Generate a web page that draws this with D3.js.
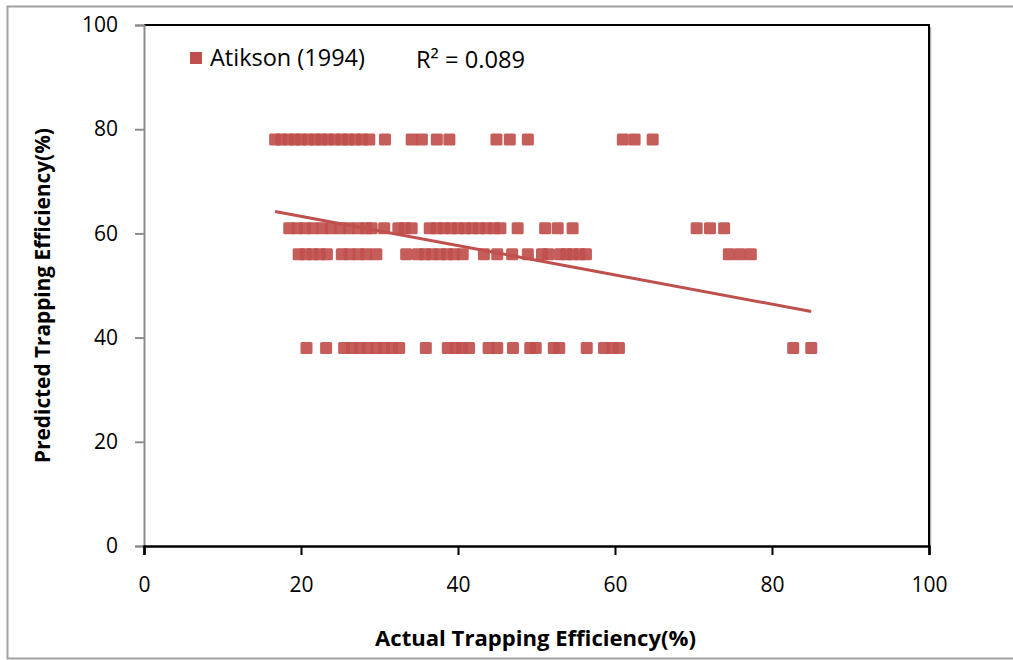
<!DOCTYPE html>
<html>
<head>
<meta charset="utf-8">
<script src="https://cdn.jsdelivr.net/npm/d3@7"></script>
<style>
  body { margin: 0; background: #fff; }
  svg { display: block; font-family: "Open Sans", sans-serif; }
</style>
</head>
<body>
<script>
// rows of the scatter: predicted value and the actual values read for it
const row78 = [16.7, 17.5, 18.4, 19.2, 20.0, 20.9, 21.8, 22.6, 23.4, 24.3, 25.2, 26.0, 26.9, 27.8, 28.7, 30.7, 34.1, 35.4, 37.3, 38.9, 44.9, 46.6, 48.9, 61.0, 62.5, 64.8];
const row61 = [18.5, 19.5, 20.5, 21.5, 22.7, 23.8, 25.0, 26.1, 27.3, 28.3, 29.0, 30.6, 32.4, 33.2, 34.1, 36.4, 37.3, 38.2, 39.1, 40.0, 40.9, 41.8, 42.7, 43.6, 44.6, 45.4, 47.6, 51.1, 52.7, 54.6, 70.4, 72.1, 73.9];
const row56 = [19.7, 20.6, 21.5, 22.4, 23.3, 25.2, 26.2, 27.3, 28.3, 29.6, 33.4, 34.9, 35.8, 36.7, 37.7, 38.6, 39.5, 40.6, 43.3, 45.0, 46.9, 48.9, 50.7, 51.5, 53.0, 53.8, 54.6, 55.5, 56.3, 74.5, 75.9, 77.3];
const row38 = [20.7, 23.2, 25.5, 26.5, 27.5, 28.5, 29.6, 30.6, 31.6, 32.5, 35.9, 38.7, 39.7, 40.5, 41.4, 43.9, 45.0, 47.0, 49.2, 49.9, 52.2, 52.9, 56.4, 58.6, 59.7, 60.5, 82.7, 85.0];
const rowValues = [78, 61, 56, 38];
const rows = [row78, row61, row56, row38];

// linear trend (as reported by the spreadsheet)
const trendIntercept = 68.9;
const trendSlope = -0.281;
const trendRange = [16.7, 85];
const rSquared = "0.089";

const xTicks = [0, 20, 40, 60, 80, 100];
const yTicks = [0, 20, 40, 60, 80, 100];
const seriesName = "Atikson (1994)";

const width = 1013, height = 660;
const margin = {left: 144, right: 84, top: 25, bottom: 114};
const red = "#C0504D";

const svg = d3.select("body").append("svg")
    .attr("width", width)
    .attr("height", height);

// grow or shrink the font so the text has the wanted width
function fitText(sel, target) {
    const w = sel.node().getComputedTextLength();
    const fs = parseFloat(sel.attr("font-size"));
    sel.attr("font-size", (fs * target / w).toFixed(2));
    return sel;
}

// chart outer border
svg.append("rect")
    .attr("x", 7.5).attr("y", 6.5)
    .attr("width", 1010).attr("height", 652)
    .attr("fill", "none")
    .attr("stroke", "#a0a0a0")
    .attr("stroke-width", 2);

const x = d3.scaleLinear().domain([0, 100]).range([margin.left, width - margin.right]);
const y = d3.scaleLinear().domain([0, 100]).range([height - margin.bottom, margin.top]);

// plot frame: top and right black with soft shadow
svg.append("line")
    .attr("x1", x(100) + 1.5).attr("x2", x(100) + 1.5)
    .attr("y1", y(100) + 2).attr("y2", y(0))
    .attr("stroke", "#b0b0b0").attr("stroke-width", 1.5);
svg.append("path")
    .attr("d", `M${x(0)},${y(100)}H${x(100)}V${y(0)}`)
    .attr("fill", "none")
    .attr("stroke", "#000")
    .attr("stroke-width", 2);

// y axis (grey)
const yAxis = svg.append("g")
    .attr("transform", `translate(${x(0)},0)`)
    .call(d3.axisLeft(y).tickValues(yTicks).tickSize(9).tickPadding(17));
yAxis.select(".domain").attr("stroke", "#8c8c8c").attr("stroke-width", 2);
yAxis.selectAll(".tick line").attr("stroke", "#8c8c8c").attr("stroke-width", 2);
yAxis.selectAll(".tick text").attr("font-size", 21).attr("fill", "#000")
    .attr("font-family", "'Open Sans', sans-serif");

// x axis (black)
const xAxis = svg.append("g")
    .attr("transform", `translate(0,${y(0)})`)
    .call(d3.axisBottom(x).tickValues(xTicks).tickSize(9).tickPadding(22));
xAxis.select(".domain").attr("stroke", "#000").attr("stroke-width", 2.5);
xAxis.selectAll(".tick line").attr("stroke", "#000").attr("stroke-width", 2);
xAxis.selectAll(".tick text").attr("font-size", 21).attr("fill", "#000")
    .attr("font-family", "'Open Sans', sans-serif");

// scatter points
const points = rows.flatMap((r, i) => r.map(v => ({x: v, y: rowValues[i]})));
const s = 12;
svg.append("g").selectAll("rect")
    .data(points)
    .enter().append("rect")
    .attr("x", d => x(d.x) - s / 2)
    .attr("y", d => y(d.y) - s / 2)
    .attr("width", s).attr("height", s)
    .attr("rx", 1.5)
    .attr("fill", red)
    .attr("fill-opacity", 0.92);

// trend line
svg.append("line")
    .attr("x1", x(trendRange[0])).attr("y1", y(trendIntercept + trendSlope * trendRange[0]))
    .attr("x2", x(trendRange[1])).attr("y2", y(trendIntercept + trendSlope * trendRange[1]))
    .attr("stroke", red)
    .attr("stroke-width", 3);

// legend
svg.append("rect")
    .attr("x", 190).attr("y", 52)
    .attr("width", 12).attr("height", 12)
    .attr("fill", red);
fitText(svg.append("text")
    .attr("x", 210).attr("y", 66)
    .attr("font-size", 21)
    .text(seriesName), 155);

fitText(svg.append("text")
    .attr("x", 416).attr("y", 68)
    .attr("font-size", 21)
    .text("R² = " + rSquared), 109);

// axis titles
fitText(svg.append("text")
    .attr("x", x(50) - 1).attr("y", 646)
    .attr("text-anchor", "middle")
    .attr("font-size", 20)
    .attr("font-weight", "bold")
    .text("Actual Trapping Efficiency(%)"), 321);

fitText(svg.append("text")
    .attr("transform", `translate(50,${y(50) + 10}) rotate(-90)`)
    .attr("text-anchor", "middle")
    .attr("font-size", 20)
    .attr("font-weight", "bold")
    .text("Predicted Trapping Efficiency(%)"), 335);
</script>
</body>
</html>
